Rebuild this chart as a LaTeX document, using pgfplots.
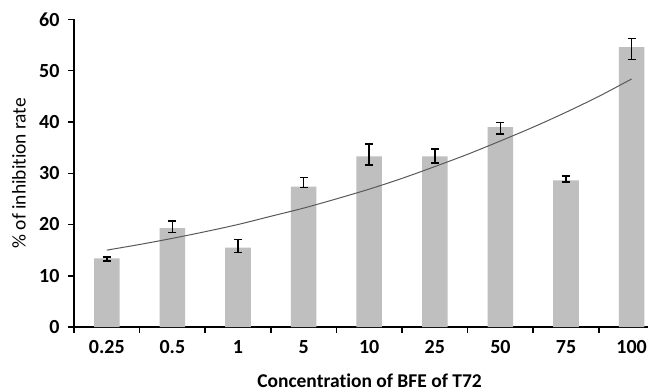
\documentclass[border=0pt]{standalone}
\usepackage{pgfplots}
\pgfplotsset{compat=1.18}
\usepackage{fontspec}
\setmainfont{Carlito}[RawFeature=-liga]
\begin{document}
\begin{tikzpicture}
\useasboundingbox (-74pt,-64pt) rectangle (574pt,327pt);
\begin{axis}[
  at={(0,0)}, anchor=south west,
  scale only axis, width=574pt, height=307.5pt,
  xmin=-0.5, xmax=8.25, ymin=0, ymax=60,
  axis lines*=left,
  axis line style={line width=1.5pt, black},
  tick align=outside,
  major tick length=6pt,
  tick style={line width=1.5pt, black},
  ytick={0,10,...,60},
  xtick={-0.5,0.5,...,7.5},
  xticklabels={},
  extra x ticks={0,1,2,3,4,5,6,7,8},
  extra x tick labels={0.25,0.5,1,5,10,25,50,75,100},
  extra x tick style={major tick length=0pt},
  /pgf/number format/assume math mode=true,
  ticklabel style={font=\fontsize{20}{23}\selectfont\bfseries},
  xticklabel style={anchor=base, yshift=-26pt},
  yticklabel style={xshift=-5pt},
  xlabel={Concentration of BFE of T72},
  xlabel style={font=\fontsize{19.5}{22}\selectfont\bfseries, at={(axis description cs:0.5148,0)}, anchor=base, yshift=-60pt, text depth=0pt},
  ylabel={\% of inhibition rate},
  ylabel style={font=\fontsize{19.5}{22}\selectfont, at={(axis description cs:-0.0958,0.5)}, anchor=center},
  clip=false,
]
\addplot[ybar, bar width=0.39, fill=gray!50, draw=none,
  error bars/.cd, y dir=both, y explicit,
  error bar style={line width=1.5pt, black},
  error mark options={rotate=90, mark size=4pt, line width=1.5pt, black}]
coordinates {
  (0,13.4) += (0,0.3) -= (0,0.5)
  (1,19.3) += (0,1.4) -= (0,0.9)
  (2,15.5) += (0,1.6) -= (0,1.0)
  (3,27.4) += (0,1.8) -= (0,0.2)
  (4,33.3) += (0,2.4) -= (0,1.7)
  (5,33.3) += (0,1.45) -= (0,1.3)
  (6,39.0) += (0,0.9) -= (0,1.3)
  (7,28.6) += (0,0.9) -= (0,0.35)
  (8,54.6) += (0,1.7) -= (0,2.4)
};
\addplot[smooth, black!65, line width=1pt, mark=none] coordinates {
  (0,15.0) (0.5,16.1) (1,17.3) (1.5,18.6) (2,20.0) (2.5,21.6) (3,23.2)
  (3.5,25.0) (4,26.9) (4.5,29.0) (5,31.3) (5.5,33.7) (6,36.3) (6.5,39.0)
  (7,41.9) (7.5,45.0) (8,48.4)
};
\end{axis}
\end{tikzpicture}
\end{document}
